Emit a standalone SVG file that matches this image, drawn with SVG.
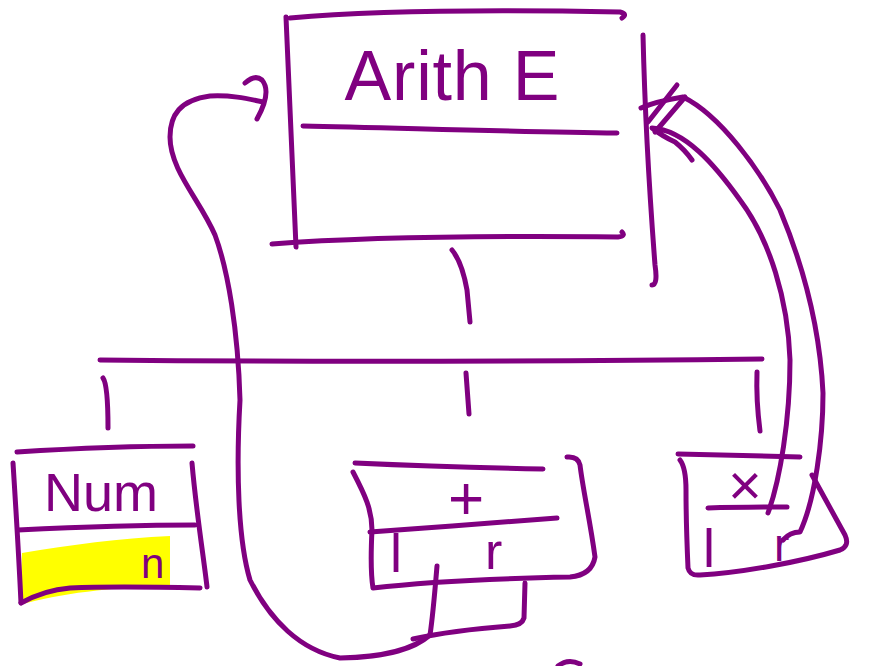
<svg xmlns="http://www.w3.org/2000/svg" width="875" height="666" viewBox="0 0 875 666">
<style>
.s{fill:none;stroke:#800080;stroke-width:5;stroke-linecap:round;stroke-linejoin:round}
.t{fill:#800080;font-family:"Liberation Sans",Arial,sans-serif}
</style>
<rect width="875" height="666" fill="#ffffff"/>
<g id="node-arith">
<path class="s" d="M290,18 C380,10 520,10 620,12 Q628,14 622,18"/>
<path class="s" d="M286,17 L296,247"/>
<path class="s" d="M303,126 C400,128 520,132 617,133"/>
<path class="s" d="M272,244 C380,236 520,236 618,237 Q626,236 622,232"/>
<path class="s" d="M643,35 C645,120 650,200 655,265 Q658,285 652,285"/>
<text class="t" x="452" y="100" font-size="70" text-anchor="middle" textLength="215" lengthAdjust="spacing">Arith E</text>
</g>
<g id="node-num">
<path d="M22,553 C70,545 120,538 170,536 L170,585 C110,588 60,593 20,605 Z" fill="#ffff00"/>
<path class="s" d="M17,452 C80,448 140,446 193,446"/>
<path class="s" d="M13,463 C16,510 19,560 21,603"/>
<path class="s" d="M192,463 C196,510 204,560 207,587"/>
<path class="s" d="M18,530 C80,527 140,525 195,525"/>
<path class="s" d="M21,603 C30,598 45,590 70,588 C110,586 160,587 200,588"/>
<text class="t" x="101" y="511" font-size="54" text-anchor="middle">Num</text>
<text class="t" x="141" y="578" font-size="42">n</text>
</g>
<g id="node-plus">
<path class="s" d="M355,463 C420,466 490,468 543,469"/>
<path class="s" d="M353,472 C365,495 372,510 372,530 C371,550 370,570 373,588 C440,580 520,578 570,577 Q592,575 595,557 C590,520 583,490 580,465 Q578,456 567,457"/>
<path class="s" d="M370,532 C430,528 500,522 557,518"/>
<text class="t" x="466" y="519" font-size="62" text-anchor="middle">+</text>
<text class="t" x="390" y="572" font-size="54">l</text>
<text class="t" x="485" y="569" font-size="52">r</text>
</g>
<g id="node-times">
<path class="s" d="M678,454 C720,455 760,456 800,457"/>
<path class="s" d="M680,460 Q686,468 686,490 C686,520 687,545 688,568 Q690,576 700,575 C740,573 800,562 840,550 Q850,546 845,535 L812,475"/>
<path class="s" d="M708,508 C740,507 765,507 787,507"/>
<text class="t" x="745" y="505" font-size="58" text-anchor="middle">×</text>
<text class="t" x="703" y="567" font-size="54">l</text>
<text class="t" x="774" y="561" font-size="46">r</text>
</g>
<g id="connectors">
<path class="s" d="M452,250 Q462,262 467,290 L470,322"/>
<path class="s" d="M100,360 C300,362 500,362 762,359"/>
<path class="s" d="M103,378 Q108,385 108,428"/>
<path class="s" d="M466,373 L469,414"/>
<path class="s" d="M757,372 Q756,400 760,431"/>
<path class="s" d="M437,566 C435,590 433,615 430,635"/>
<path class="s" d="M525,583 L524,618 Q522,625 510,626 C470,629 440,633 413,639"/>
<path class="s" d="M430,635 C415,648 390,657 340,658 C300,650 270,620 250,580 C238,540 236,470 240,400 C238,330 228,270 215,235 C200,200 170,170 170,137 C170,115 180,100 210,96 C230,95 245,98 263,102"/>
<path class="s" d="M245,83 Q255,74 262,80 Q272,92 257,119"/>
<path class="s" d="M768,513 C780,480 790,420 790,360 C788,300 770,240 740,200 C715,165 685,130 652,128 Q662,136 675,142 Q685,150 692,160"/>
<path class="s" d="M783,540 Q790,532 800,532 C815,500 823,440 823,393 C820,330 805,270 780,210 C760,170 720,115 683,97 C665,100 652,103 641,108"/>
<path class="s" d="M677,85 L648,122"/>
<path class="s" d="M685,97 L655,132"/>
<path class="s" d="M558,666 Q568,658 580,664"/>
</g>
</svg>
